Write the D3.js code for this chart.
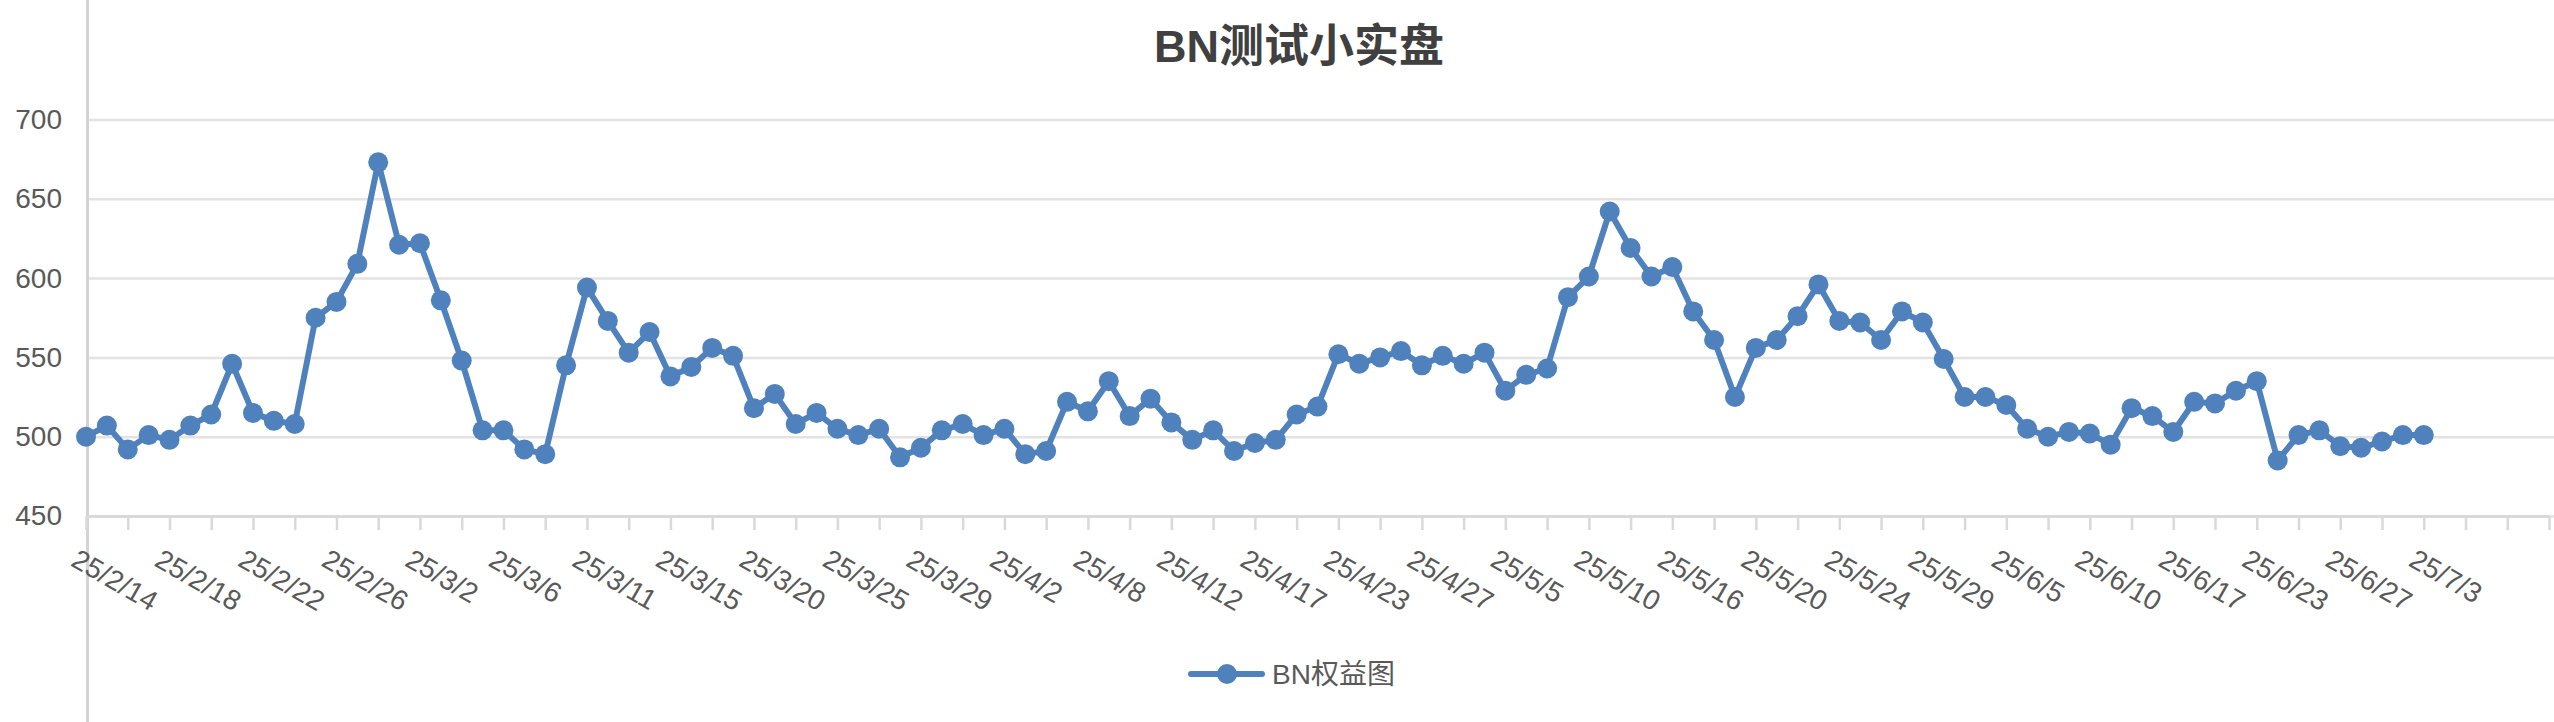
<!DOCTYPE html>
<html>
<head>
<meta charset="utf-8">
<script src="https://cdn.jsdelivr.net/npm/d3@7"></script>
<style>
  body { margin: 0; background: #fff; }
  svg { display: block; font-family: "Liberation Sans", Arial, "Noto Sans CJK SC", sans-serif; }
</style>
</head>
<body>
<svg id="chart"></svg>
<script>
// equity values, one per trading day from 25/2/14 to 25/7/3
const values = [
  500, 507, 492, 501, 498, 507, 514, 546, 515, 510,
  508, 575, 585, 609, 673, 621, 622, 586, 548, 504,
  504, 492, 489, 545, 594, 573, 553, 566, 538, 544,
  556, 551, 518, 527, 508, 515, 505, 501, 505, 487,
  493, 504, 508, 501, 505, 489, 491, 522, 516, 535,
  513, 524, 509, 498, 504, 491, 496, 498, 514, 519,
  552, 546, 550, 554, 545, 551, 546, 553, 529, 539,
  543, 588, 601, 642, 619, 601, 607, 579, 561, 525,
  556, 561, 576, 596, 573, 572, 561, 579, 572, 549,
  525, 525, 520, 505, 500, 503, 502, 495, 518, 513,
  503, 522, 521, 529, 535, 485, 501, 504, 494, 493,
  497, 501, 501
];

// labels shown on every 4th category
const tickLabels = [
  "25/2/14", "25/2/18", "25/2/22", "25/2/26", "25/3/2", "25/3/6",
  "25/3/11", "25/3/15", "25/3/20", "25/3/25", "25/3/29", "25/4/2",
  "25/4/8", "25/4/12", "25/4/17", "25/4/23", "25/4/27", "25/5/5",
  "25/5/10", "25/5/16", "25/5/20", "25/5/24", "25/5/29", "25/6/5",
  "25/6/10", "25/6/17", "25/6/23", "25/6/27", "25/7/3"
];

const yTicks = [450, 500, 550, 600, 650, 700];
const title = "BN测试小实盘";
const seriesName = "BN权益图";

const width = 2554;
const height = 722;
const lastSlot = 118; // axis runs a few empty slots past the data
const blue = "#4f81bd";
const textColor = "#595959";

const svg = d3.select("#chart")
  .attr("width", width)
  .attr("height", height);

svg.append("rect")
  .attr("width", width)
  .attr("height", height)
  .attr("fill", "#fff");

const x = d3.scaleLinear().domain([0, lastSlot]).range([86, 2549]);
const y = d3.scaleLinear().domain([450, 700]).range([516, 119.5]);

// gridlines + y labels
const yAxis = svg.append("g")
  .attr("transform", "translate(86,0)")
  .call(d3.axisLeft(y).tickValues(yTicks).tickSize(-(2554 - 86)).tickPadding(24));
yAxis.select(".domain").remove();
yAxis.selectAll(".tick line")
  .attr("stroke", "#e3e3e3")
  .attr("stroke-width", 2.5);
yAxis.selectAll(".tick text")
  .attr("fill", textColor)
  .style("font-size", "28px");

// full height vertical axis line
svg.append("line")
  .attr("x1", 87.5).attr("x2", 87.5)
  .attr("y1", 0).attr("y2", height)
  .attr("stroke", "#d4d4d4")
  .attr("stroke-width", 3);

// x axis with ticks every 2 slots
const xAxis = svg.append("g")
  .attr("transform", `translate(0,${y(450)})`)
  .call(d3.axisBottom(x)
    .tickValues(d3.range(0, lastSlot + 1, 2))
    .tickSize(14)
    .tickSizeOuter(0)
    .tickFormat(""));
xAxis.select(".domain")
  .attr("stroke", "#d9d9d9")
  .attr("stroke-width", 3);
xAxis.selectAll(".tick line")
  .attr("stroke", "#d9d9d9")
  .attr("stroke-width", 2.5);

// rotated date labels every 4 slots
const xLabels = svg.append("g")
  .attr("transform", `translate(0,${y(450)})`)
  .call(d3.axisBottom(x)
    .tickValues(d3.range(0, values.length, 4))
    .tickSize(0)
    .tickFormat((d) => tickLabels[d / 4]));
xLabels.select(".domain").remove();
xLabels.selectAll(".tick text")
  .attr("fill", textColor)
  .style("font-size", "28px")
  .attr("text-anchor", "start")
  .attr("x", 0)
  .attr("y", 0)
  .attr("dy", null)
  .attr("transform", "translate(-17,49) rotate(30)");

// series line
const line = d3.line()
  .x((d, i) => x(i))
  .y((d) => y(d));

svg.append("path")
  .datum(values)
  .attr("d", line)
  .attr("fill", "none")
  .attr("stroke", blue)
  .attr("stroke-width", 6)
  .attr("stroke-linejoin", "round");

svg.append("g")
  .selectAll("circle")
  .data(values)
  .join("circle")
  .attr("cx", (d, i) => x(i))
  .attr("cy", (d) => y(d))
  .attr("r", 10)
  .attr("fill", blue);

// title
svg.append("text")
  .attr("x", 1299)
  .attr("y", 62)
  .attr("text-anchor", "middle")
  .attr("fill", "#404040")
  .style("font-size", "45px")
  .style("font-weight", "bold")
  .text(title);

// legend
const legend = svg.append("g").attr("transform", "translate(1191,674)");
legend.append("line")
  .attr("x1", 0).attr("x2", 71)
  .attr("stroke", blue)
  .attr("stroke-width", 6)
  .attr("stroke-linecap", "round");
legend.append("circle")
  .attr("cx", 36)
  .attr("r", 10)
  .attr("fill", blue);
legend.append("text")
  .attr("x", 81)
  .attr("y", 10)
  .attr("fill", textColor)
  .style("font-size", "28px")
  .text(seriesName);
</script>
</body>
</html>
